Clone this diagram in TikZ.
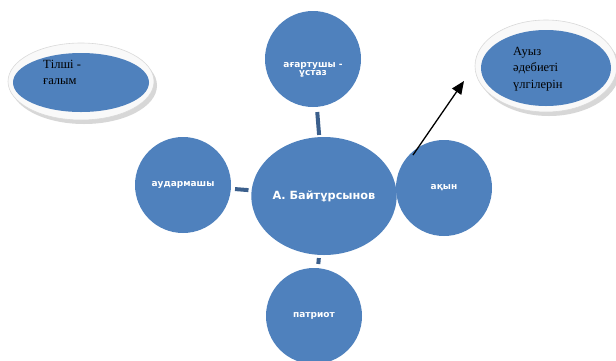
\documentclass[tikz,border=0pt]{standalone}
\usepackage{fontspec}
\setmainfont{Liberation Serif}
\newfontfamily\dv{DejaVu Sans}
\usetikzlibrary{shapes.geometric,arrows.meta,shadows}
\definecolor{nblue}{HTML}{4F81BD}
\definecolor{cblue}{HTML}{3B5F8C}
\begin{document}
\begin{tikzpicture}[x=1pt,y=-1pt,
  bub/.style={circle,fill=nblue,inner sep=0pt,minimum size=96pt,text=white,font=\dv\bfseries\fontsize{9}{9}\selectfont},
  link/.style={draw=cblue,line width=4pt},
  outer/.style={ellipse,fill=gray!5,draw=gray!30,line width=0.6pt,inner sep=0pt,
    drop shadow={shadow xshift=3pt,shadow yshift=-4pt,fill=gray!70,opacity=0.45}},
  inner/.style={ellipse,fill=nblue,inner sep=0pt},
  etext/.style={anchor=north west,inner sep=0pt,align=left,font=\fontsize{12.5}{16.5}\selectfont}
]
\useasboundingbox (0,0) rectangle (616,360);
% side ellipses
\node[outer,minimum width=146pt,minimum height=77pt] (o1) at (81,81.5) {};
\node[inner,minimum width=136pt,minimum height=59pt] (i1) at (81,82.5) {};
\node[etext] (t1) at (43,60) {Тілші -\\ғалым};
\node[outer,minimum width=142pt,minimum height=92pt] (o2) at (546,66) {};
\node[inner,minimum width=130pt,minimum height=76pt] (i2) at (546,68) {};
\node[etext] (t2) at (513,47) {Ауыз\\әдебиеті\\үлгілерін};
% central ellipse
\node[ellipse,fill=nblue,inner sep=0pt,minimum width=138pt,minimum height=118pt,text=white,
  font=\dv\bfseries\fontsize{11.3}{11.3}\selectfont] (main) at (324,196) {А. Байтұрсынов};
% circles
\node[bub] (top) at (313,59) {};
\node[text=white,align=center,inner sep=0pt,font=\dv\bfseries\fontsize{9}{8.5}\selectfont] (ttop) at (313,70) {ағартушы -\\ұстаз};
\node[bub] (left) at (183,185) {аудармашы};
\node[bub] (right) at (444,188) {ақын};
\node[bub] (bot) at (314,316) {патриот};
% connectors
\draw[link,shorten <=5pt,shorten >=2pt] (top) -- (main);
\draw[link,shorten <=4pt,shorten >=3pt] (left) -- (main);
\draw[link,shorten <=3pt,shorten >=4pt] (main) -- (bot);
% arrow
\coordinate (as) at (413,155);
\coordinate (ae) at (464,81);
\draw[line width=1.3pt,-{Triangle[length=13pt,width=11pt]}] (as) -- (ae);
\end{tikzpicture}
\end{document}
